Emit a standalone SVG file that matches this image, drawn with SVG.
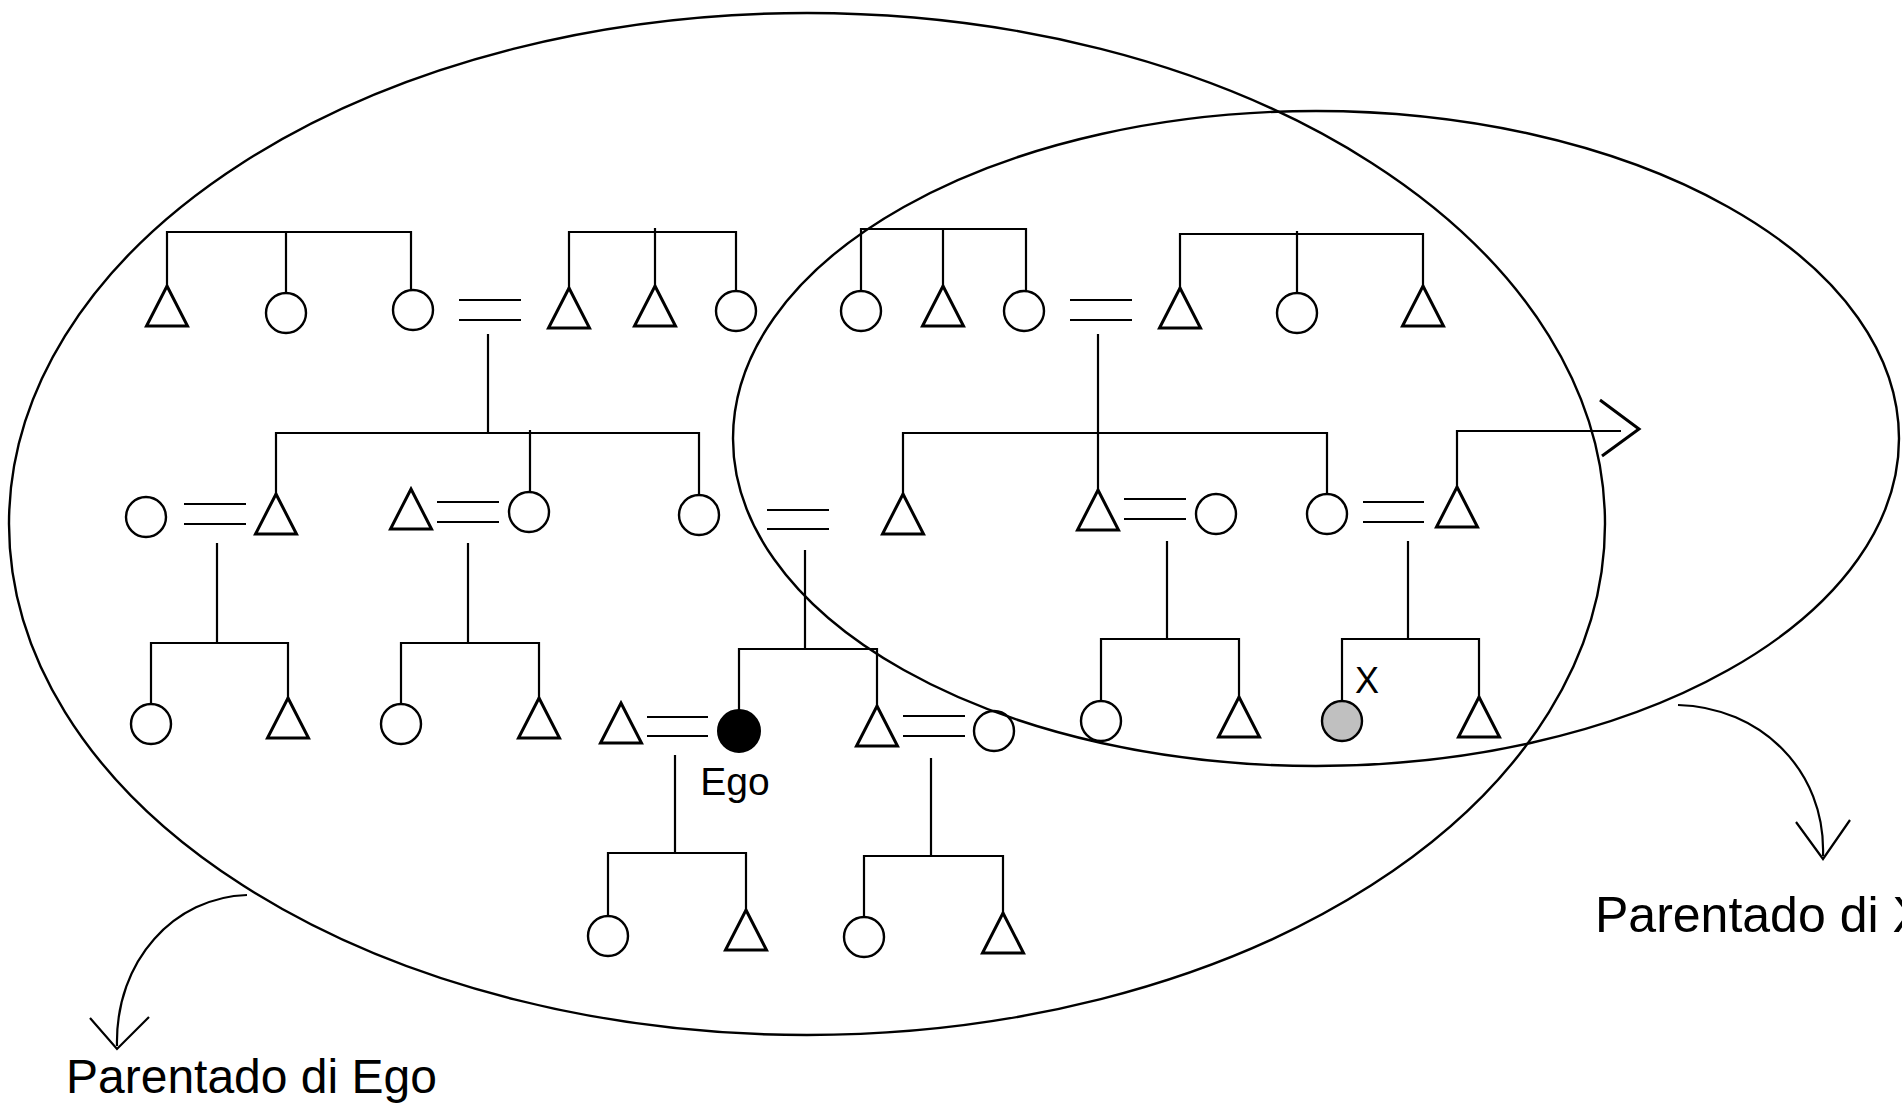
<svg xmlns="http://www.w3.org/2000/svg" xmlns:xlink="http://www.w3.org/1999/xlink" width="1902" height="1109" viewBox="0 0 1902 1109">
<style>
.ln{fill:none;stroke:#000;stroke-width:2.2;stroke-linecap:butt}
.ell{fill:none;stroke:#000;stroke-width:2.4}
.tri{fill:none;stroke:#000;stroke-width:3}
.cir{fill:none;stroke:#000;stroke-width:2.4}
.lbl{font-family:"Liberation Sans",Arial,sans-serif;fill:#000}
</style>
<defs>
<path id="tri" d="M0,0 L20.5,40 L-20.5,40 Z"/>
</defs>
<rect width="1902" height="1109" fill="#fff"/>
<g id="kinship-ellipses">
<ellipse id="ego-kindred" class="ell" cx="807" cy="524" rx="798" ry="511"/>
<ellipse id="x-kindred" class="ell" cx="1316" cy="438.5" rx="583" ry="327.5"/>
</g>
<g id="connectors" class="ln">
<path d="M167,286 V232 H411 V290 M286,232 V293"/>
<path d="M569,288 V232 H736 V291 M655,228 V286"/>
<path d="M861,291 V229 H1026 V291 M943,229 V286"/>
<path d="M1180,288 V234 H1423 V286 M1297,231 V293"/>
<path d="M459,300 H521 M459,320 H521"/>
<path d="M1070,300 H1132 M1070,320 H1132"/>
<path d="M488,334 V433"/>
<path d="M1098,334 V490"/>
<path d="M276,494 V433 H699 V495 M530,430 V492"/>
<path d="M903,494 V433 H1327 V494"/>
<path d="M184,504 H246 M184,524 H246"/>
<path d="M437,502 H499 M437,522 H499"/>
<path d="M767,510 H829 M767,529 H829"/>
<path d="M1124,499 H1186 M1124,519 H1186"/>
<path d="M1363,502 H1424 M1363,522 H1424"/>
<path d="M1457,487 V431 H1621"/>
<path d="M1600,400 L1639,429 L1602,456" stroke-width="3"/>
<path d="M217,543 V643 M468,543 V643 M805,550 V649 M1167,541 V639 M1408,541 V639"/>
<path d="M151,704 V643 H288 V698"/>
<path d="M401,704 V643 H539 V698"/>
<path d="M739,710 V649 H877 V706"/>
<path d="M1101,701 V639 H1239 V697"/>
<path d="M1342,701 V639 H1479 V697"/>
<path d="M647,717 H708 M647,736 H708"/>
<path d="M903,716 H965 M903,736 H965"/>
<path d="M675,755 V853 M931,758 V856"/>
<path d="M608,916 V853 H746 V910"/>
<path d="M864,917 V856 H1003 V913"/>
<path d="M247,895 C175,897 115,960 117,1046"/>
<path d="M90,1018 L117,1049 L149,1017"/>
<path d="M1678,705 C1760,707 1826,770 1823,856"/>
<path d="M1796,822 L1823,859 L1850,820"/>
</g>
<g id="n1"><use xlink:href="#tri" class="tri" x="167" y="286"/></g>
<g id="n2"><circle class="cir" cx="286" cy="313" r="20"/></g>
<g id="n3"><circle class="cir" cx="413" cy="310" r="20"/></g>
<g id="n4"><use xlink:href="#tri" class="tri" x="569" y="288"/></g>
<g id="n5"><use xlink:href="#tri" class="tri" x="655" y="286"/></g>
<g id="n6"><circle class="cir" cx="736" cy="311" r="20"/></g>
<g id="n7"><circle class="cir" cx="861" cy="311" r="20"/></g>
<g id="n8"><use xlink:href="#tri" class="tri" x="943" y="286"/></g>
<g id="n9"><circle class="cir" cx="1024" cy="311" r="20"/></g>
<g id="n10"><use xlink:href="#tri" class="tri" x="1180" y="288"/></g>
<g id="n11"><circle class="cir" cx="1297" cy="313" r="20"/></g>
<g id="n12"><use xlink:href="#tri" class="tri" x="1423" y="286"/></g>
<g id="r1"><circle class="cir" cx="146" cy="517" r="20"/></g>
<g id="r2"><use xlink:href="#tri" class="tri" x="276" y="494"/></g>
<g id="r3"><use xlink:href="#tri" class="tri" x="411" y="489"/></g>
<g id="r4"><circle class="cir" cx="529" cy="512" r="20"/></g>
<g id="r5"><circle class="cir" cx="699" cy="515" r="20"/></g>
<g id="r6"><use xlink:href="#tri" class="tri" x="903" y="494"/></g>
<g id="r7"><use xlink:href="#tri" class="tri" x="1098" y="490"/></g>
<g id="r8"><circle class="cir" cx="1216" cy="514" r="20"/></g>
<g id="r9"><circle class="cir" cx="1327" cy="514" r="20"/></g>
<g id="r10"><use xlink:href="#tri" class="tri" x="1457" y="487"/></g>
<g id="g1"><circle class="cir" cx="151" cy="724" r="20"/></g>
<g id="g2"><use xlink:href="#tri" class="tri" x="288" y="698"/></g>
<g id="g3"><circle class="cir" cx="401" cy="724" r="20"/></g>
<g id="g4"><use xlink:href="#tri" class="tri" x="539" y="698"/></g>
<g id="g5"><use xlink:href="#tri" class="tri" x="621" y="703"/></g>
<g id="ego"><circle cx="739" cy="731" r="21" fill="#000" stroke="#000" stroke-width="2"/><text class="lbl" x="735" y="795" font-size="39" text-anchor="middle">Ego</text></g>
<g id="g6"><use xlink:href="#tri" class="tri" x="877" y="706"/></g>
<g id="g7"><circle class="cir" cx="994" cy="731" r="20"/></g>
<g id="g8"><circle class="cir" cx="1101" cy="721" r="20"/></g>
<g id="g9"><use xlink:href="#tri" class="tri" x="1239" y="697"/></g>
<g id="x"><circle cx="1342" cy="721" r="20" fill="#c0c0c0" stroke="#000" stroke-width="2.4"/><text class="lbl" x="1355" y="693" font-size="36">X</text></g>
<g id="g10"><use xlink:href="#tri" class="tri" x="1479" y="697"/></g>
<g id="h1"><circle class="cir" cx="608" cy="936" r="20"/></g>
<g id="h2"><use xlink:href="#tri" class="tri" x="746" y="910"/></g>
<g id="h3"><circle class="cir" cx="864" cy="937" r="20"/></g>
<g id="h4"><use xlink:href="#tri" class="tri" x="1003" y="913"/></g>
<g id="label-ego"><text class="lbl" x="66" y="1093" font-size="48">Parentado di Ego</text></g>
<g id="label-x"><text class="lbl" x="1595" y="932" font-size="50">Parentado di X</text></g>
</svg>
